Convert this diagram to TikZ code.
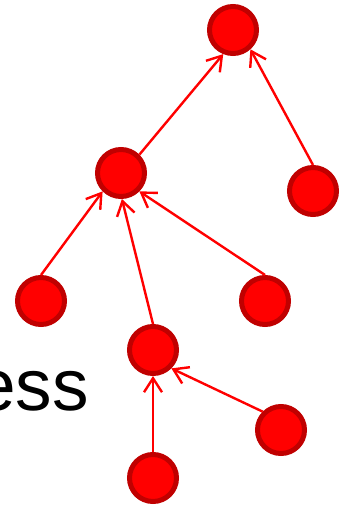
\documentclass[tikz,border=0pt]{standalone}
\usepackage{fontspec}
\setmainfont{Liberation Sans}
\usetikzlibrary{arrows.meta}
\definecolor{nodefill}{HTML}{FF0000}
\definecolor{nodeedge}{HTML}{C00000}
\tikzset{
  treenode/.style={circle, fill=nodefill, draw=nodeedge, line width=5pt, minimum size=47pt, inner sep=0pt},
  link/.style={draw=nodefill, line width=2.4pt, -{Straight Barb[length=14pt,width=18pt]}}
}
\begin{document}
\begin{tikzpicture}[x=1pt,y=-1pt]
\useasboundingbox (0,0) rectangle (347,510);
\node[anchor=base east, inner sep=0pt, font=\fontsize{73pt}{80pt}\selectfont] (txt) at (89,410) {ess};
\node[treenode] (top) at (233,30) {};
\node[treenode] (sec) at (121,173) {};
\node[treenode] (r1) at (313,191) {};
\node[treenode] (ll) at (41,301) {};
\node[treenode] (rl) at (265,301) {};
\node[treenode] (mid) at (153,350) {};
\node[treenode] (rb) at (281,430) {};
\node[treenode] (bot) at (153,478) {};
\draw[link] (sec.45) -- (top.248);
\draw[link] (r1.north) -- (top.312);
\draw[link] (ll.north) -- (sec.225);
\draw[link] (mid.north) -- (sec.272);
\draw[link] (rl.north) -- (sec.315);
\draw[link] (bot.north) -- (mid.south);
\draw[link] (rb.135) -- (mid.315);
\end{tikzpicture}
\end{document}
